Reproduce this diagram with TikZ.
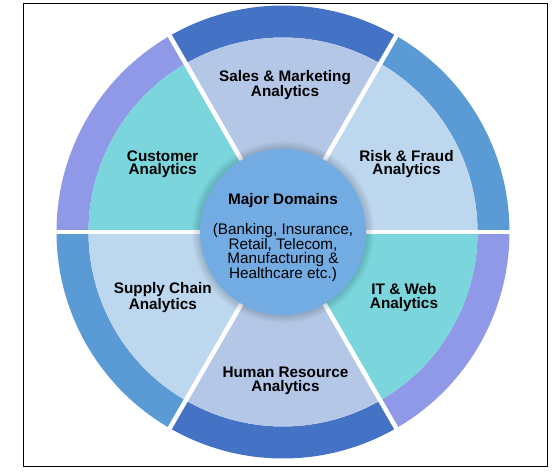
\documentclass[tikz,border=0pt]{standalone}
\usepackage{fontspec}
\setmainfont{Liberation Sans}
\begin{document}
\begin{tikzpicture}[x=1pt,y=1pt,
  lbl/.style={align=center,inner sep=0pt,font=\bfseries\fontsize{15.3}{13.3}\selectfont},
  ctext/.style={align=center,inner sep=0pt,font=\fontsize{15.3}{14.5}\selectfont},
  gapline/.style={white,line width=4.5pt}]
\definecolor{ringdark}{HTML}{4472C4}
\definecolor{ringmid}{HTML}{5B9BD5}
\definecolor{ringperi}{HTML}{8F99E8}
\definecolor{pietop}{HTML}{B4C7E7}
\definecolor{pieside}{HTML}{BDD7EE}
\definecolor{piecyan}{HTML}{7AD6DC}
\definecolor{centre}{HTML}{72ACE3}
\useasboundingbox (-283,-242) rectangle (274,232);
\draw[black,line width=1pt] (-259,-234) rectangle (264,228.5);
\def\Ro{226.5}
\def\Ri{194.5}
% ring segments
\foreach \a/\c in {0/ringmid,60/ringdark,120/ringperi,180/ringmid,240/ringdark,300/ringperi}{
  \fill[\c] (\a:\Ri) -- (\a:\Ro) arc[start angle=\a,delta angle=60,radius=\Ro]
    -- ({\a+60}:\Ri) arc[start angle={\a+60},delta angle=-60,radius=\Ri] -- cycle;
}
% pie slices
\foreach \a/\c in {0/pieside,60/pietop,120/piecyan,180/pieside,240/pietop,300/piecyan}{
  \fill[\c] (0,0) -- (\a:\Ri) arc[start angle=\a,delta angle=60,radius=\Ri] -- cycle;
}
% white gaps
\foreach \a in {0,60,120,180,240,300}{
  \draw[gapline] (0,0) -- (\a:236);
}
% soft halo round the centre
\foreach \i in {1,...,8}{
  \fill[black,opacity=0.018] (0,0) circle ({83+\i});
}
\node[circle,fill=centre,minimum size=166pt,inner sep=0pt] (hub) at (0,0) {};
\node[lbl] (major) at (0,31.2) {Major Domains};
\node[ctext] (domains) at (0,-20.4) {(Banking, Insurance,\\Retail, Telecom,\\Manufacturing \&\\Healthcare etc.)};
\node[lbl] (sales) at (2,146.8) {Sales \& Marketing\\Analytics};
\node[lbl] (cust) at (-120.3,67.8) {Customer\\Analytics};
\node[lbl] (risk) at (123.5,67.8) {Risk \& Fraud\\Analytics};
\node[lbl] (supply) at (-120.2,-65.5) {Supply Chain\\Analytics};
\node[lbl] (itweb) at (121,-65.5) {IT \& Web\\Analytics};
\node[lbl] (hr) at (2.5,-148.8) {Human Resource\\Analytics};
\end{tikzpicture}
\end{document}
